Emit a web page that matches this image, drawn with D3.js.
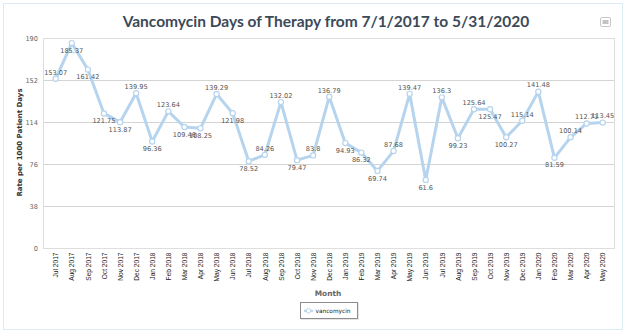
<!DOCTYPE html>
<html><head><meta charset="utf-8">
<script src="https://cdn.jsdelivr.net/npm/d3@7/dist/d3.min.js"></script>
<style>html,body{margin:0;padding:0;background:#fff;overflow:hidden}</style>
</head><body><svg id="c" width="629" height="334"></svg>
<script>
const months = ["Jul 2017","Aug 2017","Sep 2017","Oct 2017","Nov 2017","Dec 2017",
"Jan 2018","Feb 2018","Mar 2018","Apr 2018","May 2018","Jun 2018","Jul 2018","Aug 2018","Sep 2018","Oct 2018","Nov 2018","Dec 2018",
"Jan 2019","Feb 2019","Mar 2019","Apr 2019","May 2019","Jun 2019","Jul 2019","Aug 2019","Sep 2019","Oct 2019","Nov 2019","Dec 2019",
"Jan 2020","Feb 2020","Mar 2020","Apr 2020","May 2020"];
const vancomycin = [153.07,185.37,161.42,121.75,113.87,139.95,
96.36,123.64,109.46,108.25,139.29,121.98,78.52,84.26,132.02,79.47,83.8,136.79,
94.93,86.32,69.74,87.68,139.47,61.6,136.3,99.23,125.64,125.47,100.27,115.14,
141.48,81.59,100.14,112.71,113.45];
const yTicks = [0,38,76,114,152,190];
const seriesName = "vancomycin";
const titleText = "Vancomycin Days of Therapy from 7/1/2017 to 5/31/2020";
const yTitle = "Rate per 1000 Patient Days";
const xTitle = "Month";

const svg = d3.select("#c");
const L = 43, R = 615, T = 38, B = 248;
const blue = "#b6d4ee";

// outer border
svg.append("rect").attr("x",3.5).attr("y",3.5).attr("width",619).attr("height",326)
  .attr("fill","#fff").attr("stroke","#dcecf4").attr("stroke-width",1);

// title
svg.append("text").attr("x",326).attr("y",26.5).attr("text-anchor","middle")
  .attr("font-family","Lato").attr("font-weight","bold").attr("font-size",15.5)
  .attr("fill","#3c4a58").text(titleText);

// menu icon
svg.append("rect").attr("x",600.5).attr("y",17.5).attr("width",10).attr("height",9).attr("rx",1.5)
  .attr("fill","#fff").attr("stroke","#c8c8c8");
svg.append("rect").attr("x",602.5).attr("y",20).attr("width",6).attr("height",4).attr("fill","#c4c4c4");

const y = d3.scaleLinear().domain([0,190]).range([B,T]);
const x = d3.scalePoint().domain(months).range([55.7,602.7]);

// gridlines
const yAxis = d3.axisLeft(y).tickValues(yTicks).tickSize(-(R-L)).tickPadding(5);
const gy = svg.append("g").attr("transform",`translate(${L},0)`).call(yAxis);
gy.select(".domain").remove();
gy.selectAll(".tick line").attr("stroke","#d4d4d4").attr("shape-rendering","crispEdges");
gy.selectAll(".tick text").attr("font-family","DejaVu Sans").attr("font-size",6.6).attr("fill","#666");

// frame
svg.append("rect").attr("x",L+0.5).attr("y",T+0.5).attr("width",R-L-1).attr("height",B-T)
  .attr("fill","none").attr("stroke","#dedede");

// x axis labels
const xAxis = d3.axisBottom(x).tickSize(0).tickPadding(0);
const gx = svg.append("g").attr("transform",`translate(0,${B})`).call(xAxis);
gx.select(".domain").remove();
gx.selectAll(".tick text").attr("font-family","Liberation Sans").attr("font-size",6.6)
  .attr("fill","#222").attr("text-anchor","end")
  .attr("transform","translate(0,4.5) rotate(-90)").attr("x",0).attr("y",0).attr("dy","0.33em");

// axis titles
svg.append("text").attr("transform",`translate(22,142.5) rotate(-90)`).attr("text-anchor","middle")
  .attr("font-family","DejaVu Sans").attr("font-weight","bold").attr("font-size",7).attr("fill","#333").text(yTitle);
svg.append("text").attr("x",328).attr("y",295.5).attr("text-anchor","middle")
  .attr("font-family","DejaVu Sans").attr("font-weight","bold").attr("font-size",7.4).attr("fill","#666").text(xTitle);

// line
const line = d3.line().x((d,i)=>x(months[i])).y(d=>y(d));
svg.append("path").datum(vancomycin).attr("d",line).attr("fill","none")
  .attr("stroke",blue).attr("stroke-width",3).attr("stroke-linejoin","round");
svg.selectAll("circle.pt").data(vancomycin).join("circle").attr("class","pt")
  .attr("cx",(d,i)=>x(months[i])).attr("cy",d=>y(d)).attr("r",2.6)
  .attr("fill","#fff").attr("stroke",blue).attr("stroke-width",1.2);

// data labels
svg.selectAll("text.lbl").data(vancomycin).join("text").attr("class","lbl")
  .attr("x",(d,i)=>x(months[i]))
  .attr("y",(d,i)=>{
    let above = i===0 || d >= vancomycin[i-1];
    if (above && y(d)-10 < T) above = false;
    return above ? y(d)-6.5 : y(d)+7.3;
  })
  .attr("dy","0.35em").attr("text-anchor","middle")
  .attr("font-family","DejaVu Sans").attr("font-size",6.6).attr("fill","#555")
  .text(d=>String(d));

// legend
const lg = svg.append("g");
lg.append("rect").attr("x",301).attr("y",303).attr("width",58).attr("height",17).attr("fill","#e6e6e6");
lg.append("rect").attr("x",300.5).attr("y",302.5).attr("width",57).attr("height",16)
  .attr("fill","#fff").attr("stroke","#8c8c8c");
lg.append("line").attr("x1",304).attr("x2",313).attr("y1",310.8).attr("y2",310.8).attr("stroke",blue).attr("stroke-width",2);
lg.append("circle").attr("cx",308.5).attr("cy",310.8).attr("r",2.3).attr("fill","#fff").attr("stroke",blue);
lg.append("text").attr("x",315.5).attr("y",310.8).attr("dy","0.35em")
  .attr("font-family","DejaVu Sans").attr("font-size",5.8).attr("fill","#222").text(seriesName);
</script></body></html>
